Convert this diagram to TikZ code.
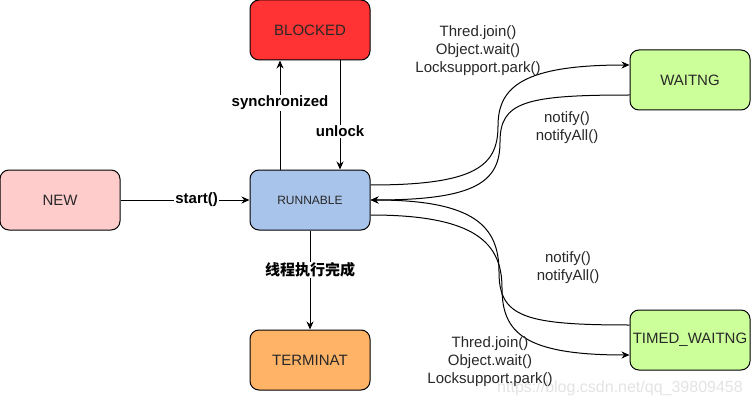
\documentclass[tikz,border=0pt]{standalone}
\usepackage{fontspec}
\setmainfont{Liberation Sans}
\newfontfamily\cjkfont{Noto Sans CJK SC}
\usetikzlibrary{arrows.meta}
\definecolor{blockred}{RGB}{255,51,51}
\definecolor{newpink}{RGB}{255,204,204}
\definecolor{runblue}{RGB}{169,196,235}
\definecolor{termorange}{RGB}{255,179,102}
\definecolor{waitgreen}{RGB}{204,255,153}
\definecolor{textgray}{RGB}{40,40,40}
\tikzset{
  state/.style={draw=black, line width=1pt, rounded corners=9pt, minimum width=120pt, minimum height=60pt, inner sep=1pt, font=\fontsize{15}{18}\selectfont, text=textgray},
  flow/.style={-{Stealth[length=8pt,width=7pt]}, line width=1pt},
  plain/.style={line width=1pt},
  boldlbl/.style={fill=white, inner sep=1pt, font=\fontsize{15}{18}\selectfont\bfseries},
  calllbl/.style={align=center, inner sep=0pt, font=\fontsize{15}{18}\selectfont, text=textgray},
}

\begin{document}
\begin{tikzpicture}[x=1pt, y=-1pt]
    \useasboundingbox (0,0) rectangle (751,406);

    % Watermark
    \node[font=\fontsize{16}{18}\selectfont, text=gray!22] (mark) at (620,388) {https://blog.csdn.net/qq\_39809458};

    % States
    \node[state, fill=newpink] (new) at (60,200) {NEW};
    \node[state, fill=runblue, font=\fontsize{12}{14}\selectfont] (run) at (310,200) {RUNNABLE};
    \node[state, fill=blockred] (blk) at (310,30) {BLOCKED};
    \node[state, fill=termorange] (term) at (310,360) {TERMINAT};
    \node[state, fill=waitgreen] (wait) at (690,80) {WAITNG};
    \node[state, fill=waitgreen] (timed) at (690,340) {TIMED\_WAITNG};

    % Straight transitions
    \draw[flow] (new) -- node[boldlbl, pos=0.59] {start()} (run);
    \draw[flow] ([xshift=-30pt]run.north) -- node[boldlbl, pos=0.61] {synchronized} ([xshift=-30pt]blk.south);
    \draw[flow] ([xshift=30pt]blk.south) -- node[boldlbl, pos=0.65] {unlock} ([xshift=30pt]run.north);
    \draw[flow] (run) -- node[boldlbl, pos=0.4] {\cjkfont\bfseries 线程执行完成} (term);

    % Bend points of the curved transitions
    \coordinate (wbend) at (498,126);
    \coordinate (nbend) at (500,142);
    \coordinate (tbend) at (502,288);
    \coordinate (rbend) at (499,272);

    % RUNNABLE <-> WAITNG
    \draw[flow] ([yshift=15pt]run.east) .. controls +(105,0) and +(0,40) .. (wbend)
        .. controls +(0,-40) and +(-105,0) .. ([yshift=15pt]wait.west);
    \draw[flow] ([yshift=-15pt]wait.west) .. controls +(-105,0) and +(0,-40) .. (nbend)
        .. controls +(0,40) and +(105,0) .. (run.east);

    % RUNNABLE <-> TIMED_WAITNG
    \draw[flow] ([yshift=-15pt]run.east) .. controls +(105,0) and +(0,-45) .. (tbend)
        .. controls +(0,45) and +(-105,0) .. ([yshift=-15pt]timed.west);
    \draw[flow] ([yshift=15pt]timed.west) .. controls +(-105,0) and +(0,45) .. (rbend)
        .. controls +(0,-45) and +(105,0) .. (run.east);

    % Call labels
    \node[calllbl] (waitcall) at (478,51) {Thred.join()\\Object.wait()\\Locksupport.park()};
    \node[calllbl] (waitnote) at (567,127.5) {notify()\\notifyAll()};
    \node[calllbl] (timednote) at (568,267.5) {notify()\\notifyAll()};
    \node[calllbl] (timedcall) at (490,362) {Thred.join()\\Object.wait()\\Locksupport.park()};
\end{tikzpicture}
\end{document}
